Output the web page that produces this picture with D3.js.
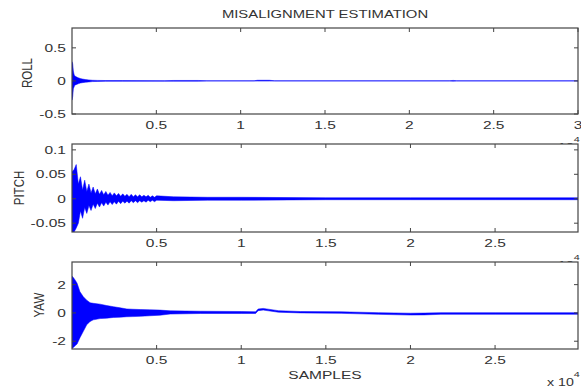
<!DOCTYPE html>
<html>
<head>
<meta charset="utf-8">
<script src="https://cdn.jsdelivr.net/npm/d3@7"></script>
<style>
html,body{margin:0;padding:0;background:#fff;}
svg{display:block;}
text{font-family:"Liberation Sans",Arial,Helvetica,sans-serif;fill:#333;}
</style>
</head>
<body>
<svg id="chart" width="581" height="392"></svg>
<script>
// ---- data (x in units of 10^4 samples) ----
const titleText = "MISALIGNMENT ESTIMATION";
const xLabelText = "SAMPLES";

const rollX  = [0, 0.004, 0.008, 0.012, 0.016, 0.02, 0.03, 0.04, 0.05, 0.06, 0.08, 0.1, 0.12, 0.15, 0.2, 0.3, 0.55, 0.6, 0.75, 0.8, 1.08, 1.1, 1.17, 1.2, 2.24, 2.26, 2.28, 3];
const rollHi = [0.29, 0.26, 0.15, 0.1, 0.08, 0.07, 0.055, 0.045, 0.035, 0.03, 0.02, 0.015, 0.01, 0.008, 0.006, 0.005, 0.004, 0.007, 0.007, 0.003, 0.003, 0.01, 0.01, 0.003, 0.003, 0.008, 0.003, 0.003];
const rollLo = [-0.29, -0.24, -0.12, -0.09, -0.07, -0.06, -0.05, -0.04, -0.032, -0.027, -0.02, -0.015, -0.01, -0.008, -0.006, -0.005, -0.004, -0.005, -0.005, -0.003, -0.003, -0.003, -0.003, -0.003, -0.003, -0.004, -0.003, -0.003];

const pitchX  = [0, 0.0125, 0.025, 0.0375, 0.05, 0.0625, 0.075, 0.0875, 0.1, 0.1125, 0.125, 0.1375, 0.15, 0.1625, 0.175, 0.1875, 0.2, 0.2125, 0.225, 0.2375, 0.25, 0.2625, 0.275, 0.2875, 0.3, 0.3125, 0.325, 0.3375, 0.35, 0.3625, 0.375, 0.3875, 0.4, 0.4125, 0.425, 0.4375, 0.45, 0.4625, 0.475, 0.4875, 0.5, 0.6, 0.8, 1.0, 1.5, 2.0, 2.5, 2.99];
const pitchHi = [0.055, 0.06, 0.07, 0.03, 0.045, 0.018, 0.038, 0.015, 0.03, 0.012, 0.024, 0.01, 0.02, 0.009, 0.017, 0.008, 0.015, 0.007, 0.013, 0.006, 0.012, 0.006, 0.011, 0.005, 0.01, 0.005, 0.009, 0.004, 0.009, 0.004, 0.008, 0.004, 0.008, 0.004, 0.007, 0.004, 0.007, 0.003, 0.006, 0.003, 0.006, 0.004, 0.003, 0.003, 0.002, 0.002, 0.002, 0.002];
const pitchLo = [-0.068, -0.068, -0.06, -0.05, -0.025, -0.04, -0.018, -0.03, -0.014, -0.024, -0.011, -0.02, -0.009, -0.017, -0.008, -0.015, -0.007, -0.013, -0.006, -0.012, -0.006, -0.011, -0.005, -0.01, -0.005, -0.009, -0.005, -0.009, -0.004, -0.008, -0.004, -0.008, -0.004, -0.007, -0.004, -0.007, -0.003, -0.006, -0.003, -0.006, -0.003, -0.004, -0.003, -0.003, -0.002, -0.002, -0.002, -0.002];

const yawX  = [0, 0.008, 0.02, 0.03, 0.047, 0.067, 0.087, 0.107, 0.126, 0.166, 0.205, 0.245, 0.285, 0.324, 0.36, 0.403, 0.46, 0.52, 0.58, 0.76, 1.0, 1.085, 1.1, 1.13, 1.22, 1.35, 1.59, 1.81, 2.0, 2.08, 2.18, 2.5, 2.99];
const yawHi = [2.6, 2.5, 2.3, 2.1, 1.5, 1.15, 0.9, 0.72, 0.68, 0.62, 0.52, 0.44, 0.36, 0.28, 0.26, 0.24, 0.22, 0.2, 0.15, 0.12, 0.1, 0.08, 0.28, 0.32, 0.16, 0.1, 0.08, 0.02, -0.02, -0.01, 0.02, 0.02, 0.02];
const yawLo = [-2.5, -2.45, -2.3, -2.2, -1.75, -1.3, -0.84, -0.6, -0.49, -0.4, -0.37, -0.32, -0.3, -0.27, -0.26, -0.24, -0.2, -0.16, -0.08, -0.04, -0.04, -0.04, 0.16, 0.2, 0.05, 0.0, -0.03, -0.1, -0.15, -0.14, -0.1, -0.1, -0.1];

const rollYTicks  = [-0.5, 0, 0.5];
const rollYLabels = ["-0.5", "0", "0.5"];
const pitchYTicks  = [-0.05, 0, 0.05, 0.1];
const pitchYLabels = ["-0.05", "0", "0.05", "0.1"];
const yawYTicks  = [-2, 0, 2];
const yawYLabels = ["-2", "0", "2"];
const rollXTicks  = [0.5, 1, 1.5, 2, 2.5, 3];
const rollXLabels = ["0.5", "1", "1.5", "2", "2.5", "3"];
const lowXTicks  = [0.5, 1, 1.5, 2, 2.5];
const lowXLabels = ["0.5", "1", "1.5", "2", "2.5"];

// ---- layout ----
const SX = 1.35; // horizontal stretch of the original figure text
const svg = d3.select("#chart");
const left = 72, right = 578;
const fontTick = 11.5;

svg.append("text")
  .attr("transform", `translate(325,18) scale(${SX},1)`)
  .attr("text-anchor", "middle").attr("font-size", 11).text(titleText);

const panels = [
  {name:"ROLL", xs:rollX, hi:rollHi, lo:rollLo, top:28, bottom:114, ydom:[-0.5,0.8], xdom:[0,3],
   yt:rollYTicks, yl:rollYLabels, xt:rollXTicks, xl:rollXLabels, labX:28, labY:73},
  {name:"PITCH", xs:pitchX, hi:pitchHi, lo:pitchLo, top:144, bottom:232, ydom:[-0.068,0.112], xdom:[0,2.99],
   yt:pitchYTicks, yl:pitchYLabels, xt:lowXTicks, xl:lowXLabels, labX:20, labY:188},
  {name:"YAW", xs:yawX, hi:yawHi, lo:yawLo, top:262, bottom:349, ydom:[-2.55,3.6], xdom:[0,2.99],
   yt:yawYTicks, yl:yawYLabels, xt:lowXTicks, xl:lowXLabels, labX:40, labY:305}
];

panels.forEach((p, i) => {
  const x = d3.scaleLinear().domain(p.xdom).range([left, right]);
  const y = d3.scaleLinear().domain(p.ydom).range([p.bottom, p.top]);
  const g = svg.append("g");

  g.append("rect").attr("x", left).attr("y", p.top)
    .attr("width", right-left).attr("height", p.bottom-p.top).attr("fill", "#fff");

  g.append("clipPath").attr("id", "clip"+i).append("rect")
    .attr("x", left).attr("y", p.top).attr("width", right-left).attr("height", p.bottom-p.top);

  const data = p.xs.map((v, k) => ({x:v, hi:p.hi[k], lo:p.lo[k]}));
  const area = d3.area().x(d => x(d.x)).y0(d => y(d.lo)).y1(d => y(d.hi));
  g.append("path").datum(data).attr("d", area)
    .attr("clip-path", `url(#clip${i})`)
    .attr("fill", "#0000ff").attr("stroke", "#0000ff").attr("stroke-width", 0.5)
    .attr("stroke-linejoin", "round");

  // box
  g.append("rect").attr("x", left).attr("y", p.top)
    .attr("width", right-left).attr("height", p.bottom-p.top)
    .attr("fill", "none").attr("stroke", "#444").attr("stroke-width", 1.2);

  // x ticks (top & bottom, inward)
  const tl = 4;
  p.xt.forEach((t, k) => {
    const px = x(t);
    g.append("line").attr("x1", px).attr("x2", px).attr("y1", p.bottom).attr("y2", p.bottom-tl).attr("stroke", "#444");
    g.append("line").attr("x1", px).attr("x2", px).attr("y1", p.top).attr("y2", p.top+tl).attr("stroke", "#444");
    g.append("text").attr("transform", `translate(${px},${p.bottom+15}) scale(${SX},1)`)
      .attr("text-anchor", "middle").attr("font-size", fontTick).text(p.xl[k]);
  });
  // y ticks (left & right, inward)
  p.yt.forEach((t, k) => {
    const py = y(t);
    g.append("line").attr("x1", left).attr("x2", left+tl).attr("y1", py).attr("y2", py).attr("stroke", "#444");
    g.append("line").attr("x1", right).attr("x2", right-tl).attr("y1", py).attr("y2", py).attr("stroke", "#444");
    g.append("text").attr("transform", `translate(66,${py+4}) scale(${SX},1)`)
      .attr("text-anchor", "end").attr("font-size", fontTick).text(p.yl[k]);
  });

  // y label
  g.append("text").attr("transform", `translate(${p.labX+4},${p.labY}) scale(${SX},1) rotate(-90)`)
    .attr("text-anchor", "middle").attr("font-size", fontTick).text(p.name);

  // exponent label
  const ex = g.append("text").attr("transform", `translate(547,${p.bottom+37}) scale(${SX},1)`)
    .attr("font-size", 10.5);
  ex.append("tspan").text("x 10");
  ex.append("tspan").attr("dy", -9).attr("font-size", 8).text("4");
});

svg.append("text")
  .attr("transform", `translate(325,379) scale(${SX},1)`)
  .attr("text-anchor", "middle").attr("font-size", fontTick).text(xLabelText);
</script>
</body>
</html>
